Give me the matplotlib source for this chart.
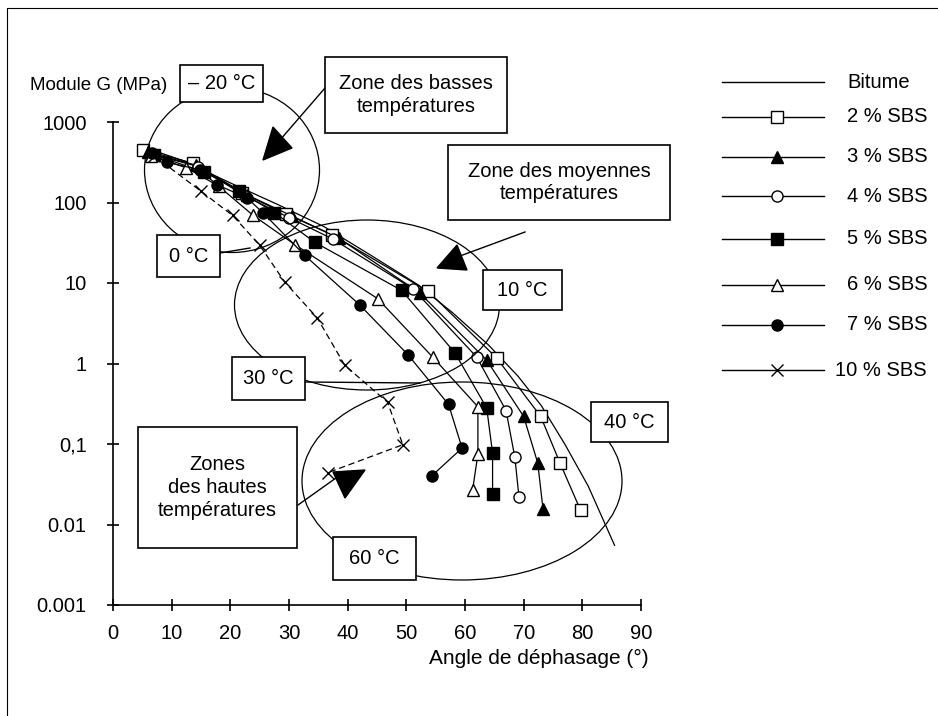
import matplotlib
matplotlib.use("Agg")
import matplotlib.pyplot as plt
from matplotlib.patches import Ellipse, Rectangle, Polygon
from matplotlib.lines import Line2D

plt.rcParams["font.family"] = ["Liberation Sans", "DejaVu Sans"]
plt.rcParams["font.size"] = 14.5

W, H = 938, 716

# phase angle (deg) and complex modulus G (MPa) for each binder
bitume_x = [5.5, 12, 20, 28, 36, 44, 52, 58, 64, 69, 73, 77, 81, 85.5]
bitume_g = [480, 330, 175, 95, 50, 22, 9.5, 4.2, 1.7, 0.7, 0.3, 0.1, 0.03, 0.0055]

sbs2_x = [5.1, 13.6, 22.0, 29.5, 37.3, 53.7, 65.4, 72.9, 76.2, 79.7]
sbs2_g = [450, 309, 131, 72, 40, 7.9, 1.17, 0.22, 0.058, 0.015]

sbs3_x = [6.0, 14.2, 22.8, 30.5, 38.5, 52.3, 63.7, 70.0, 72.4, 73.3]
sbs3_g = [420, 290, 125, 68, 36, 7.5, 1.1, 0.22, 0.058, 0.0155]

sbs4_x = [6.5, 14.5, 22.5, 30.0, 37.5, 51.1, 62.0, 67.0, 68.5, 69.2]
sbs4_g = [400, 280, 120, 65, 35, 8.5, 1.2, 0.26, 0.068, 0.022]

sbs5_x = [7.0, 15.5, 21.5, 27.5, 34.4, 49.2, 58.3, 63.7, 64.7, 64.7]
sbs5_g = [390, 240, 140, 75, 32, 8.1, 1.35, 0.28, 0.077, 0.024]

sbs6_x = [6.5, 12.5, 18.0, 23.9, 31.0, 45.1, 54.5, 62.2, 62.2, 61.3]
sbs6_g = [380, 270, 160, 69, 30, 6.4, 1.2, 0.29, 0.075, 0.027]

sbs7_x = [6.6, 9.2, 14.8, 17.7, 22.8, 25.6, 32.7, 42.1, 50.3, 57.2, 59.5, 54.3]
sbs7_g = [412, 316, 255, 166, 115, 74, 22, 5.3, 1.28, 0.31, 0.089, 0.040]

sbs10_x = [7.0, 15.0, 20.4, 25.0, 29.3, 34.8, 39.5, 46.8, 49.4, 36.6]
sbs10_g = [380, 138, 69, 29.5, 10.2, 3.7, 0.95, 0.33, 0.098, 0.044]

x_ticks = [0, 10, 20, 30, 40, 50, 60, 70, 80, 90]
y_ticks = [0.001, 0.01, 0.1, 1, 10, 100, 1000]
y_labels = ["0.001", "0.01", "0,1", "1", "10", "100", "1000"]

series = [
    ("Bitume", bitume_x, bitume_g, dict(marker="None")),
    ("2 % SBS", sbs2_x, sbs2_g, dict(marker="s", mfc="white")),
    ("3 % SBS", sbs3_x, sbs3_g, dict(marker="^", mfc="black")),
    ("4 % SBS", sbs4_x, sbs4_g, dict(marker="o", mfc="white")),
    ("5 % SBS", sbs5_x, sbs5_g, dict(marker="s", mfc="black")),
    ("6 % SBS", sbs6_x, sbs6_g, dict(marker="^", mfc="white")),
    ("7 % SBS", sbs7_x, sbs7_g, dict(marker="o", mfc="black")),
    ("10 % SBS", sbs10_x, sbs10_g, dict(marker="x", ls=(0, (5, 3)), ms=9)),
]

fig = plt.figure(figsize=(W / 100, H / 100), dpi=100)
ax = fig.add_axes([113 / W, 1 - 605 / H, (641 - 113) / W, (605 - 122) / H])
ax.set_yscale("log")
ax.set_xlim(0, 90)
ax.set_ylim(0.001, 1000)

for name, xs, gs, style in series:
    kw = dict(color="black", lw=0.9, ms=8, mec="black", mew=1.0)
    kw.update(style)
    ax.plot(xs, gs, **kw)

ax.set_xticks(x_ticks)
ax.set_yticks(y_ticks)
ax.set_yticklabels(y_labels)
ax.minorticks_off()
ax.tick_params(direction="inout", length=8, width=1.2, labelsize=14.5)
ax.tick_params(axis="y", pad=15)
ax.tick_params(axis="x", pad=10)
for s in ["top", "right"]:
    ax.spines[s].set_visible(False)
for s in ["left", "bottom"]:
    ax.spines[s].set_linewidth(1.2)

# annotation layer in pixel coordinates
ov = fig.add_axes([0, 0, 1, 1])
ov.set_xlim(0, W)
ov.set_ylim(H, 0)
ov.axis("off")

ov.plot([7, 7, W], [H, 8, 8], color="black", lw=0.8)

ov.text(30, 85, "Module G (MPa)", ha="left", va="center", fontsize=13.5)
ov.text(649, 658, "Angle de déphasage (°)", ha="right", va="center", fontsize=15)

# temperature zones
for cx, cy, w, h in [(232, 170, 175, 165), (367, 305, 265, 170), (462, 481, 320, 198)]:
    ov.add_patch(Ellipse((cx, cy), w, h, fill=False, ec="black", lw=0.9))

leaders = [
    ((220, 253), (250, 248)),
    ((305, 382), (420, 383)),
    ((280, 140), (325, 88)),
    ((460, 256), (525, 232)),
    ((298, 505), (336, 478)),
]
for (x0, y0), (x1, y1) in leaders:
    ov.plot([x0, x1], [y0, y1], color="black", lw=1.0)

arrows = [
    [(263, 160), (273, 127), (292, 148)],
    [(437, 268), (457, 245), (467, 270)],
    [(333, 472), (365, 470), (345, 498)],
]
for tri in arrows:
    ov.add_patch(Polygon(tri, closed=True, fc="black", ec="black"))

boxes = [
    ((180, 65, 263, 102), "– 20 °C"),
    ((157, 235, 220, 277), "0 °C"),
    ((483, 270, 562, 310), "10 °C"),
    ((232, 357, 305, 400), "30 °C"),
    ((591, 402, 668, 442), "40 °C"),
    ((333, 537, 416, 580), "60 °C"),
    ((325, 57, 507, 133), "Zone des basses\ntempératures"),
    ((448, 145, 670, 220), "Zone des moyennes\ntempératures"),
    ((138, 427, 297, 548), "Zones\ndes hautes\ntempératures"),
]
for (x0, y0, x1, y1), label in boxes:
    ov.add_patch(Rectangle((x0, y0), x1 - x0, y1 - y0, fc="white", ec="black", lw=1.2, zorder=3))
    ov.text((x0 + x1) / 2, (y0 + y1) / 2, label, ha="center", va="center",
            fontsize=14.5, linespacing=1.25, zorder=4)

# legend
rows = [82, 117, 157, 196, 239, 285, 325, 370]
for (name, xs, gs, style), y in zip(series, rows):
    kw = dict(color="black", lw=1.0, ms=8, mec="black", mew=1.0)
    kw.update(style)
    kw["ls"] = "-"
    ov.add_line(Line2D([722, 777, 824], [y, y, y], markevery=[1], **kw))
    tx = 835 if name.startswith("10") else 847
    ov.text(tx, y, name, ha="left", va="center", fontsize=14.5)

fig.savefig("out.png", dpi=100)
